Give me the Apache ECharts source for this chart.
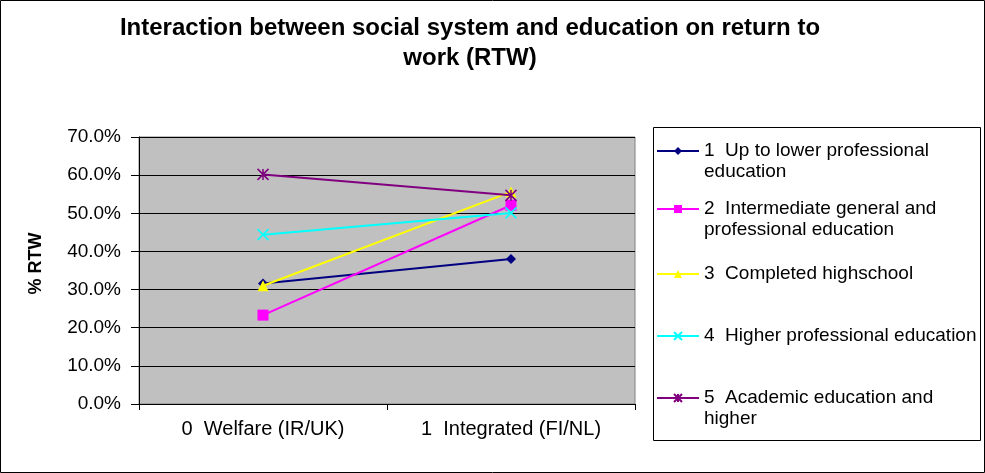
<!DOCTYPE html>
<html>
<head>
<meta charset="utf-8">
<script src="https://cdn.jsdelivr.net/npm/echarts@6/dist/echarts.min.js"></script>
<style>
  html, body { margin: 0; padding: 0; background: #fff; }
  #main { width: 985px; height: 473px; }
</style>
</head>
<body>
<div id="main"></div>
<script>
// categories on the x axis
var categories = ['0  Welfare (IR/UK)', '1  Integrated (FI/NL)'];

// series names (legend text)
var seriesNames = [
  '1  Up to lower professional\neducation',
  '2  Intermediate general and\nprofessional education',
  '3  Completed highschool',
  '4  Higher professional education',
  '5  Academic education and\nhigher'
];

// RTW values, in percent
var upToLower = [31.6, 38.0];
var intermediate = [23.3, 52.1];
var highschool = [31.0, 55.6];
var higherProf = [44.4, 50.1];
var academic = [60.2, 54.7];

// y axis ticks
var yMin = 0;
var yMax = 70;
var yStep = 10;

var colors = ['#000080', '#FF00FF', '#FFFF00', '#00FFFF', '#800080'];
var symbols = [
  'diamond',
  'rect',
  'triangle',
  'path://M0,0L10,10M10,0L0,10',
  'path://M0,0L10,10M10,0L0,10M5,0L5,10'
];
var symbolSizes = [10, 11, 11, 11, 11];
var values = [upToLower, intermediate, highschool, higherProf, academic];

// legend rows: y of the icon / first text line
var legendRowY = [151, 209, 274, 336, 398];

var FONT = 'Liberation Sans, Arial, sans-serif';
var LH = 21;

var chart = echarts.init(document.getElementById('main'));

var series = [];
var legends = [];
for (var i = 0; i < values.length; i++) {
  series.push({
    name: seriesNames[i],
    type: 'line',
    data: values[i],
    symbol: symbols[i],
    symbolSize: symbolSizes[i],
    lineStyle: { color: colors[i], width: 2 },
    itemStyle: { color: colors[i], borderColor: colors[i], borderWidth: i >= 3 ? 1.5 : 0 },
    emphasis: { disabled: true },
    z: 2 + i
  });
  var twoLines = seriesNames[i].indexOf('\n') >= 0;
  legends.push({
    data: [seriesNames[i]],
    left: 656,
    top: twoLines ? legendRowY[i] - LH * 1.5 : legendRowY[i] - LH / 2,
    padding: 0,
    itemWidth: 42,
    itemHeight: 10,
    itemGap: 0,
    selectedMode: false,
    // empty first line keeps the icon next to the first line of wrapped names
    formatter: twoLines ? function (name) { return '\n' + name; } : '{name}',
    textStyle: {
      fontFamily: FONT,
      fontSize: 19,
      lineHeight: LH,
      color: '#000'
    }
  });
}

var option = {
  backgroundColor: '#fff',
  animation: false,
  title: {
    text: 'Interaction between social system and education on return to\nwork (RTW)',
    left: 470,
    top: 13,
    padding: 0,
    textAlign: 'center',
    textStyle: {
      fontFamily: FONT,
      fontSize: 24,
      fontWeight: 'bold',
      lineHeight: 30,
      color: '#000'
    }
  },
  legend: legends,
  grid: {
    left: 139,
    right: 350,
    top: 137,
    bottom: 69,
    show: true,
    backgroundColor: '#C0C0C0',
    borderColor: '#808080',
    borderWidth: 1
  },
  xAxis: {
    type: 'category',
    data: categories,
    boundaryGap: true,
    axisLine: { lineStyle: { color: '#000', width: 1 } },
    axisTick: { show: true, length: 6, lineStyle: { color: '#000' } },
    axisLabel: {
      fontFamily: FONT,
      fontSize: 20,
      color: '#000',
      margin: 15
    },
    splitLine: { show: false }
  },
  yAxis: {
    type: 'value',
    min: yMin,
    max: yMax,
    interval: yStep,
    name: '% RTW',
    nameLocation: 'middle',
    nameGap: 94,
    nameTextStyle: {
      fontFamily: FONT,
      fontSize: 18,
      fontWeight: 'bold',
      color: '#000',
      padding: [0, 0, 0, 14]
    },
    axisLine: { show: true, lineStyle: { color: '#000', width: 1 } },
    axisTick: { show: true, length: 8, lineStyle: { color: '#000' } },
    axisLabel: {
      fontFamily: FONT,
      fontSize: 19,
      color: '#000',
      margin: 18,
      formatter: function (v) { return v.toFixed(1) + '%'; }
    },
    splitLine: { show: true, lineStyle: { color: '#000', width: 1 } }
  },
  graphic: [
    {
      type: 'rect',
      shape: { x: 0.5, y: 0.5, width: 984, height: 472 },
      style: { fill: 'none', stroke: '#000', lineWidth: 1 },
      silent: true,
      z: -1
    },
    {
      type: 'rect',
      shape: { x: 653.5, y: 127.5, width: 327, height: 313 },
      style: { fill: '#fff', stroke: '#000', lineWidth: 1 },
      silent: true,
      z: -1
    }
  ],
  series: series
};

chart.setOption(option);
</script>
</body>
</html>
